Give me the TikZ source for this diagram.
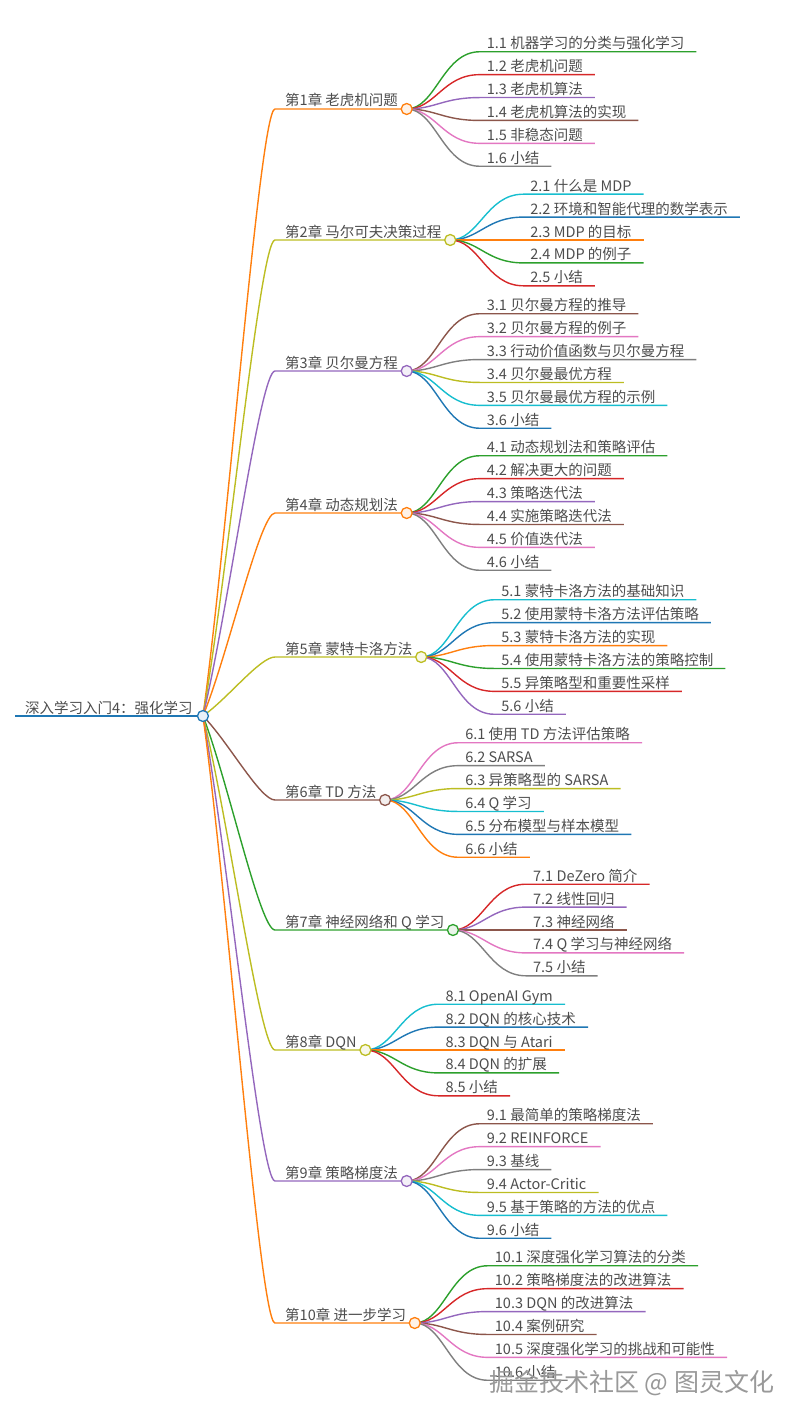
\documentclass[tikz,border=0pt]{standalone}
\usepackage{fontspec}
\setmainfont{Noto Sans CJK SC}
\usetikzlibrary{calc, backgrounds}
\definecolor{k0}{HTML}{1F77B4}
\definecolor{k1}{HTML}{FF7F0E}
\definecolor{k2}{HTML}{2CA02C}
\definecolor{k3}{HTML}{D62728}
\definecolor{k4}{HTML}{9467BD}
\definecolor{k5}{HTML}{8C564B}
\definecolor{k6}{HTML}{E377C2}
\definecolor{k7}{HTML}{7F7F7F}
\definecolor{k8}{HTML}{BCBD22}
\definecolor{k9}{HTML}{17BECF}
\definecolor{labelgray}{HTML}{4D4D4D}

\begin{document}
\begin{tikzpicture}[x=1pt, y=-1pt,
    font=\fontsize{14.5}{17}\selectfont,
    txt/.style={anchor=base west, inner sep=0pt, text=labelgray},
    bullet/.style={circle, draw=#1, fill=#1!10!white, line width=1.3pt, minimum size=11pt, inner sep=0pt},
    ln/.style={draw=#1, line width=1.4pt},
    rootcurve/.style={to path={let \p1=(\tikztostart), \p2=(\tikztotarget) in
        .. controls (\x1+25pt, {\y1+0.3*(\y2-\y1)}) and (\x2-15pt, \y2) .. (\tikztotarget)}},
    kidcurve/.style={to path={let \p1=(\tikztostart), \p2=(\tikztotarget) in
        .. controls (\x1+29pt, \y1) and (\x2-37pt, \y2) .. (\tikztotarget)}}
  ]
  \useasboundingbox (0,0) rectangle (801,1423);

  % root
  \node[txt] (rtxt) at (25,713) {深入学习入门4：强化学习};
  \node[bullet=k0] (root) at ($(rtxt.base east)+(10,3)$) {};
  \coordinate (rstart) at (15,716);
  \begin{scope}[on background layer]
    \draw[ln=k0] (rstart) -- (root.center);
  \end{scope}

  % chapters: number / y / edge colour / first child colour / children
  \foreach \ch/\cy/\ec/\sc/\nk/\title/\kids in {
    1/109/1/2/6/{第1章 老虎机问题}/{1.1 机器学习的分类与强化学习,1.2 老虎机问题,1.3 老虎机算法,1.4 老虎机算法的实现,1.5 非稳态问题,1.6 小结},
    2/240/8/9/5/{第2章 马尔可夫决策过程}/{2.1 什么是 MDP,2.2 环境和智能代理的数学表示,2.3 MDP 的目标,2.4 MDP 的例子,2.5 小结},
    3/371/4/5/6/{第3章 贝尔曼方程}/{3.1 贝尔曼方程的推导,3.2 贝尔曼方程的例子,3.3 行动价值函数与贝尔曼方程,3.4 贝尔曼最优方程,3.5 贝尔曼最优方程的示例,3.6 小结},
    4/513/1/2/6/{第4章 动态规划法}/{4.1 动态规划法和策略评估,4.2 解决更大的问题,4.3 策略迭代法,4.4 实施策略迭代法,4.5 价值迭代法,4.6 小结},
    5/657/8/9/6/{第5章 蒙特卡洛方法}/{5.1 蒙特卡洛方法的基础知识,5.2 使用蒙特卡洛方法评估策略,5.3 蒙特卡洛方法的实现,5.4 使用蒙特卡洛方法的策略控制,5.5 异策略型和重要性采样,5.6 小结},
    6/800/5/6/6/{第6章 TD 方法}/{6.1 使用 TD 方法评估策略,6.2 SARSA,6.3 异策略型的 SARSA,6.4 Q 学习,6.5 分布模型与样本模型,6.6 小结},
    7/930/2/3/5/{第7章 神经网络和 Q 学习}/{7.1 DeZero 简介,7.2 线性回归,7.3 神经网络,7.4 Q 学习与神经网络,7.5 小结},
    8/1050/8/9/5/{第8章 DQN}/{8.1 OpenAI Gym,8.2 DQN 的核心技术,8.3 DQN 与 Atari,8.4 DQN 的扩展,8.5 小结},
    9/1181/4/5/6/{第9章 策略梯度法}/{9.1 最简单的策略梯度法,9.2 REINFORCE,9.3 基线,9.4 Actor-Critic,9.5 基于策略的方法的优点,9.6 小结},
    10/1323/1/2/6/{第10章 进一步学习}/{10.1 深度强化学习算法的分类,10.2 策略梯度法的改进算法,10.3 DQN 的改进算法,10.4 案例研究,10.5 深度强化学习的挑战和可能性,10.6 小结}}{
    \node[txt] (t\ch) at (285,\cy-3) {\title};
    \node[bullet=k\ec] (d\ch) at ($(t\ch.base east)+(8.5,3)$) {};
    \coordinate (s\ch) at (275,\cy);
    \begin{scope}[on background layer]
      \draw[ln=k\ec] (root.center) to[rootcurve] (s\ch) -- (d\ch.center);
    \end{scope}
    \foreach \kt [count=\ki] in \kids {
      \pgfmathsetmacro\ky{\cy+(\ki-(\nk+1)/2)*22.9}
      \pgfmathtruncatemacro\kc{mod(\sc+\ki-1,10)}
      \node[txt] (k\ch-\ki) at ($(d\ch.center)+(80,{\ky-\cy-3})$) {\kt};
      \begin{scope}[on background layer]
        \draw[ln=k\kc] (d\ch.center) to[kidcurve] ($(k\ch-\ki.base west)+(-7,3)$) -- ($(k\ch-\ki.base east)+(12,3)$);
      \end{scope}
    }
  }

  % watermark
  \node[anchor=base west, inner sep=0pt, font=\fontsize{25}{30}\selectfont, text=black!40] (mark) at (489,1391) {掘金技术社区 @ 图灵文化};
\end{tikzpicture}
\end{document}
